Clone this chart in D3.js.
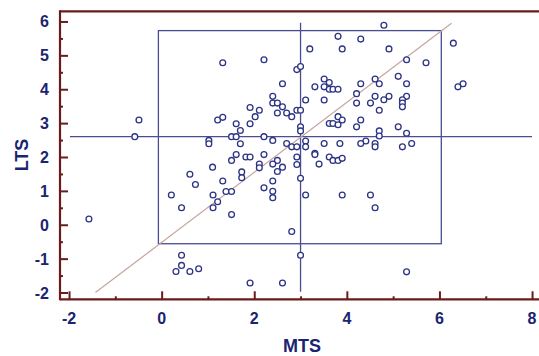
<!DOCTYPE html>
<html><head><meta charset="utf-8">
<script src="https://cdn.jsdelivr.net/npm/d3@7"></script>
<style>body{margin:0;background:#fff}svg{display:block}</style>
</head><body>
<script>
// ---- data ----
const mtsValues = [
-0.49,-0.58,-1.57,1.02,1.02,1.21,1.32,1.32,2.21,1.91,2.11,2.02,1.91,1.61,1.70,
1.51,1.61,2.21,1.70,2.40,1.51,1.61,1.82,1.91,2.21,1.10,0.61,1.32,2.11,2.11,1.73,1.73,
3.81,3.20,3.90,2.92,3.00,2.61,3.31,3.51,3.62,3.51,3.62,3.70,3.81,3.51,3.11,
2.40,2.40,2.50,2.61,2.50,2.70,2.81,2.92,3.00,3.00,3.00,
3.11,3.11,2.70,2.81,2.92,3.31,3.51,3.85,
3.81,3.90,3.62,3.70,3.81,
4.80,4.30,4.91,6.30,5.29,5.71,5.11,5.29,4.61,4.70,4.30,4.21,4.21,
4.61,4.91,4.80,4.51,5.29,5.20,5.20,5.20,4.70,6.40,6.51,
4.30,4.21,5.11,4.70,4.70,5.29,4.41,4.30,4.61,4.61,5.20,5.40,
2.92,2.92,3.31,3.40,3.62,3.70,3.81,3.90,
2.50,2.40,2.61,2.50,3.00,2.21,2.40,2.40,2.40,
3.11,3.90,4.51,4.61,2.81,3.00,1.91,2.61,5.29,
1.39,1.51,1.51,0.21,0.43,0.73,1.11,1.21,1.11,
0.43,0.43,0.31,0.61,0.80
];
const ltsValues = [
3.09,2.60,0.17,2.49,2.39,3.09,3.17,4.78,4.87,3.46,3.38,3.19,2.98,2.98,2.78,
2.60,2.60,2.60,2.39,2.49,1.90,2.07,2.00,2.00,2.07,1.70,1.49,1.29,1.79,1.68,1.56,1.39,
5.56,5.19,5.19,4.58,4.67,4.16,4.07,4.30,4.20,4.07,4.00,4.00,4.00,3.68,3.68,
3.79,3.59,3.59,3.48,3.30,3.30,3.19,3.38,3.38,2.89,2.77,
2.47,2.30,2.40,2.30,2.30,2.11,2.40,2.40,
3.19,3.09,2.99,2.99,2.95,
5.89,5.48,5.19,5.36,4.87,4.78,4.38,4.16,4.30,4.16,4.16,3.87,3.59,
3.79,3.79,3.69,3.59,3.79,3.69,3.59,3.48,3.38,4.07,4.16,
3.09,2.89,2.89,2.77,2.62,2.70,2.47,2.40,2.40,2.30,2.30,2.40,
2.00,1.78,2.07,1.79,2.00,1.90,1.90,1.96,
1.90,1.79,1.70,1.57,1.37,1.09,1.29,0.99,0.80,
0.88,0.88,0.88,0.50,-0.20,-0.90,-1.72,-1.72,-1.39,
0.98,0.98,0.30,0.88,0.50,1.19,0.88,0.68,0.50,
-0.90,-1.20,-1.38,-1.38,-1.30
];
const xTicks = [-2, 0, 2, 4, 6, 8];
const yTicks = [-2, -1, 0, 1, 2, 3, 4, 5, 6];
const xTitle = "MTS";
const yTitle = "LTS";
// reference lines (data units)
const meanMTS = 3.0, meanLTS = 2.6;
const vLineRange = [-1.98, 5.96];
const hLineRange = [-1.98, 8.0];
const boxX = [-0.07, 6.04];
const boxY = [-0.56, 5.73];
const diagLine = [[-1.43, -2.0], [6.26, 5.95]];

// ---- drawing ----
const W = 539, H = 356;
const x = d3.scaleLinear().domain([-2.195, 8.15]).range([60, 539]);
const y = d3.scaleLinear().domain([-2.2, 6.3]).range([299.3, 11.3]);
const axisCol = "#6a1b1b", textCol = "#1b2470", lineCol = "#4a4d8f", ptCol = "#2c3384";
const font = "Liberation Sans, Arial, sans-serif";

const svg = d3.select("body").append("svg").attr("width", W).attr("height", H);

// reference box and lines
svg.append("rect")
  .attr("x", x(boxX[0])).attr("y", y(boxY[1]))
  .attr("width", x(boxX[1]) - x(boxX[0])).attr("height", y(boxY[0]) - y(boxY[1]))
  .attr("fill", "none").attr("stroke", lineCol).attr("stroke-width", 1.3);
svg.append("line")
  .attr("x1", x(meanMTS)).attr("x2", x(meanMTS))
  .attr("y1", y(vLineRange[0])).attr("y2", y(vLineRange[1]))
  .attr("stroke", lineCol).attr("stroke-width", 1.3);
svg.append("line")
  .attr("x1", x(hLineRange[0])).attr("x2", x(hLineRange[1]))
  .attr("y1", y(meanLTS)).attr("y2", y(meanLTS))
  .attr("stroke", lineCol).attr("stroke-width", 1.3);
svg.append("line")
  .attr("x1", x(diagLine[0][0])).attr("y1", y(diagLine[0][1]))
  .attr("x2", x(diagLine[1][0])).attr("y2", y(diagLine[1][1]))
  .attr("stroke", "#c4a59e").attr("stroke-width", 1.2);

// points
svg.append("g").selectAll("circle")
  .data(mtsValues.map((v, i) => [v, ltsValues[i]]))
  .join("circle")
  .attr("cx", d => x(d[0])).attr("cy", d => y(d[1]))
  .attr("r", 2.9)
  .attr("fill", "#fff").attr("stroke", ptCol).attr("stroke-width", 1.3);

// top border
svg.append("line")
  .attr("x1", x.range()[0]).attr("x2", x.range()[1])
  .attr("y1", y.range()[1]).attr("y2", y.range()[1])
  .attr("stroke", axisCol).attr("stroke-width", 2.2);

// x axis (ticks inward)
const xMinor = d3.range(-1, 8, 2);
const xAxis = svg.append("g").attr("transform", `translate(0,${y.range()[0]})`)
  .call(d3.axisTop(x).tickValues(xTicks).tickSize(8).tickFormat(""));
xAxis.append("g").call(d3.axisTop(x).tickValues(xMinor).tickSize(3).tickFormat(""));
xAxis.selectAll("path,line").attr("stroke", axisCol).attr("stroke-width", 2);
xAxis.selectAll(".domain").remove();
svg.append("line").attr("x1", x.range()[0]).attr("x2", x.range()[1])
  .attr("y1", y.range()[0]).attr("y2", y.range()[0])
  .attr("stroke", axisCol).attr("stroke-width", 2.2);
svg.append("g").selectAll("text").data(xTicks).join("text")
  .attr("x", d => x(d)).attr("y", y.range()[0] + 25)
  .attr("text-anchor", "middle")
  .attr("font-family", font).attr("font-weight", "bold")
  .attr("font-size", 16).attr("fill", textCol)
  .text(d => d);

// y axis (ticks inward)
const yMinor = d3.range(-1.5, 6, 1);
const yAxis = svg.append("g").attr("transform", `translate(${x.range()[0]},0)`)
  .call(d3.axisRight(y).tickValues(yTicks).tickSize(8).tickFormat(""));
yAxis.append("g").call(d3.axisRight(y).tickValues(yMinor).tickSize(3).tickFormat(""));
yAxis.selectAll("path,line").attr("stroke", axisCol).attr("stroke-width", 2);
yAxis.selectAll(".domain").remove();
svg.append("line").attr("x1", x.range()[0]).attr("x2", x.range()[0])
  .attr("y1", y.range()[0] + 1).attr("y2", y.range()[1] - 1)
  .attr("stroke", axisCol).attr("stroke-width", 2.2);
svg.append("g").selectAll("text").data(yTicks).join("text")
  .attr("x", x.range()[0] - 11).attr("y", d => y(d) + 6)
  .attr("text-anchor", "end")
  .attr("font-family", font).attr("font-weight", "bold")
  .attr("font-size", 16).attr("fill", textCol)
  .text(d => d);

// titles
svg.append("text").attr("x", 302).attr("y", 352)
  .attr("text-anchor", "middle")
  .attr("font-family", font).attr("font-weight", "bold")
  .attr("font-size", 18).attr("fill", textCol).text(xTitle);
svg.append("text").attr("transform", "translate(28,155) rotate(-90)")
  .attr("text-anchor", "middle")
  .attr("font-family", font).attr("font-weight", "bold")
  .attr("font-size", 18).attr("fill", textCol).text(yTitle);
</script>
</body></html>
